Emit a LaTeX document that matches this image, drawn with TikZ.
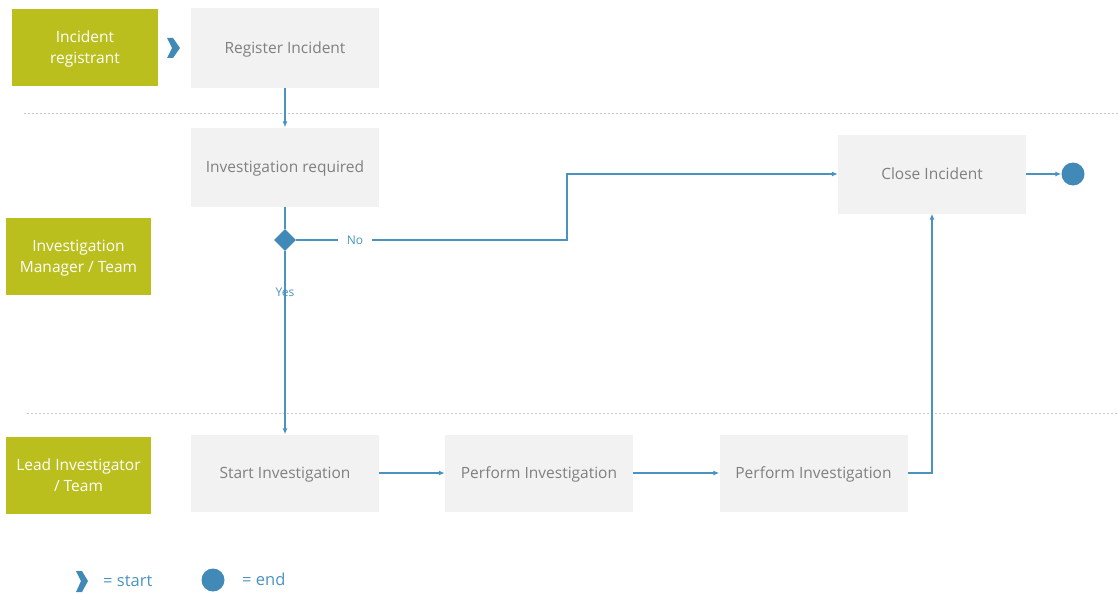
\documentclass[tikz,border=0pt]{standalone}
\usepackage{fontspec}
\setmainfont{Open Sans}
\usetikzlibrary{arrows.meta,shapes.geometric}
\definecolor{roleg}{HTML}{BBBF1E}
\definecolor{boxf}{HTML}{F2F2F2}
\definecolor{boxt}{HTML}{808080}
\definecolor{flow}{HTML}{4A93C0}
\definecolor{flowd}{HTML}{4189B6}
\definecolor{dash}{HTML}{C8C8C8}
\tikzset{
  role/.style={fill=roleg, text=white, minimum width=146pt, minimum height=77pt, align=center, font=\fontsize{15.5}{21}\selectfont, inner sep=0pt, text depth=0pt},
  task/.style={fill=boxf, text=boxt, minimum width=188pt, minimum height=79pt, align=center, font=\fontsize{15.5}{20}\selectfont, inner sep=0pt, text depth=0pt},
  conn/.style={draw=flow, line width=1.6pt, -{Latex[length=6pt,width=5pt]}},
  seg/.style={draw=flow, line width=1.6pt},
  lbl/.style={text=flow, font=\fontsize{12}{14}\selectfont, inner sep=1pt},
  legtxt/.style={text=flow, font=\fontsize{16.5}{18}\selectfont, inner sep=0pt, anchor=west},
  lane/.style={draw=dash, line width=0.7pt, dash pattern=on 2pt off 2pt},
  chev/.style={fill=flowd, draw=none},
}
\begin{document}
\begin{tikzpicture}[x=1pt,y=-1pt]
\useasboundingbox (0,0) rectangle (1118,594);
% lanes
\draw[lane] (24,113) -- (1118,113);
\draw[lane] (27,413) -- (1118,413);
% roles
\node[role] (r1) at (85,47.5) {Incident\\registrant};
\node[role, minimum width=145pt] (r2) at (78.5,256) {Investigation\\Manager / Team};
\node[role, minimum width=145pt] (r3) at (78.5,475.5) {Lead Investigator\\/ Team};
% start chevron
\fill[chev] (167,38) -- (173,38) -- (180,48) -- (173,58) -- (167,58) -- (172,48) -- cycle;
% tasks
\node[task] (reg) at (285,48) {Register Incident};
\node[task] (inv) at (285,167) {Investigation required};
\node[task] (close) at (932,174) {Close Incident};
\node[task, minimum height=77pt] (start) at (285,473) {Start Investigation};
\node[task, minimum height=77pt] (perf1) at (539,473) {Perform Investigation};
\node[task, minimum height=77pt] (perf2) at (813.5,473) {Perform Investigation};
% decision
\node[diamond, fill=flowd, minimum width=22pt, minimum height=22pt, inner sep=0pt] (dec) at (285,240) {};
% end
\node[circle, fill=flowd, minimum size=23pt, inner sep=0pt] (endc) at (1073,174) {};
% labels
\node[lbl] (no) at (355,240) {No};
\node[lbl] (yes) at (285,292) {Yes};
% connectors
\draw[conn] (reg.south) -- (inv.north);
\draw[seg] (inv.south) -- (dec.north);
\draw[seg] (dec.east) -- ([xshift=-8pt]no.west);
\draw[conn] ([xshift=8pt]no.east) -- (567,240) |- (close.west);
\draw[seg] (dec.south) -- ([yshift=-7pt]yes.north);
\draw[conn] ([yshift=7pt]yes.south) -- (start.north);
\draw[conn] (start.east) -- (perf1.west);
\draw[conn] (perf1.east) -- (perf2.west);
\draw[conn] (perf2.east) -| (close.south);
\draw[conn] (close.east) -- (endc.west);
% legend
\fill[chev] (76,571) -- (82,571) -- (88,581) -- (82,592) -- (76,592) -- (81,581) -- cycle;
\node[legtxt] (ls) at (103,581) {= start};
\node[circle, fill=flowd, minimum size=23pt, inner sep=0pt] (le) at (213,580) {};
\node[legtxt] (lend) at (242,579) {= end};
\end{tikzpicture}
\end{document}
